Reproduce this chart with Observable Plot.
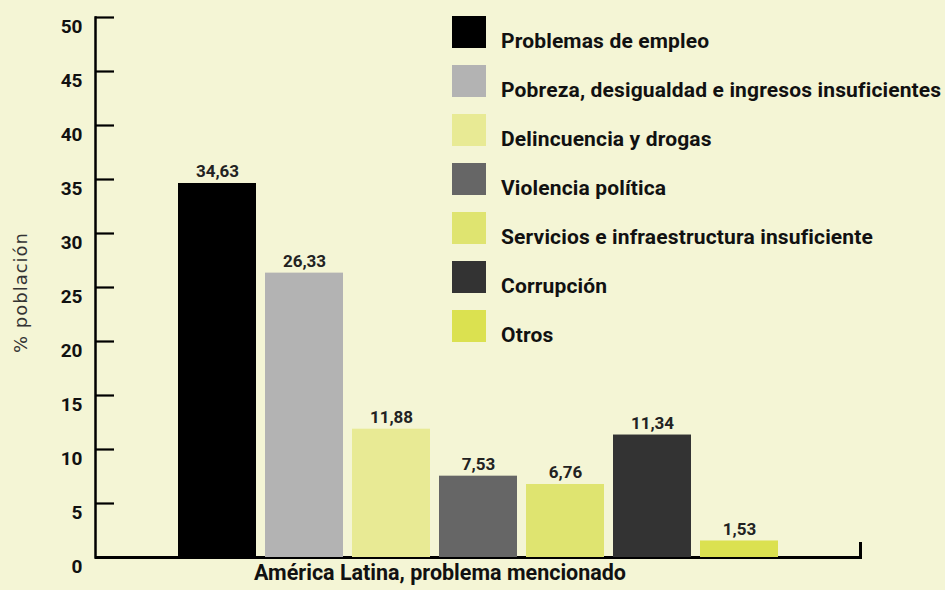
<!DOCTYPE html>
<html>
<head>
<meta charset="utf-8">
<script src="https://cdn.jsdelivr.net/npm/d3@7"></script>
<script src="https://cdn.jsdelivr.net/npm/@observablehq/plot@0.6"></script>
<style>
  html, body { margin: 0; padding: 0; background: #F4F5D5; }
  #wrap { position: relative; width: 945px; height: 590px; overflow: hidden; }
  #wrap svg { position: absolute; left: 0; top: 0; }
  #legend { position: absolute; left: 452px; top: 0; font-family: Roboto, sans-serif; font-weight: 700; font-size: 21px; letter-spacing: 0.15px; color: #111; }
  .row { position: absolute; left: 0; white-space: nowrap; line-height: 21px; }
  .sw { display: inline-block; width: 34px; height: 32px; margin-right: 15px; vertical-align: baseline; }
</style>
</head>
<body>
<div id="wrap"><div id="legend"></div></div>
<script>
const categories = [
  "Problemas de empleo",
  "Pobreza, desigualdad e ingresos insuficientes",
  "Delincuencia y drogas",
  "Violencia política",
  "Servicios e infraestructura insuficiente",
  "Corrupción",
  "Otros"
];
const values = [34.63, 26.33, 11.88, 7.53, 6.76, 11.34, 1.53];
const colors = ["#000000", "#b3b3b3", "#e8ea94", "#666666", "#dfe470", "#333333", "#dbe150"];
const yTicks = [0, 5, 10, 15, 20, 25, 30, 35, 40, 45, 50];
const yLabel = "% población";
const xTitle = "América Latina, problema mencionado";

const data = categories.map((c, i) => ({cat: c, val: values[i]}));
const fmt = d3.formatLocale({decimal: ",", thousands: ".", grouping: [3], currency: ["", ""]}).format(".2f");

const W = 945, H = 590, mL = 95, mR = 85, mT = 17, mB = 33;
const frameW = W - mL - mR, frameH = H - mT - mB;

const chart = Plot.plot({
  width: W, height: H,
  marginLeft: mL, marginRight: mR, marginTop: mT, marginBottom: mB,
  style: {background: "transparent", fontFamily: "Roboto, sans-serif", color: "#111"},
  x: {type: "band", domain: categories, range: [167.2, 789.9], padding: 0.1, axis: null},
  y: {domain: [0, 50], axis: null},
  color: {domain: categories, range: colors},
  marks: [
    Plot.frame({anchor: "left", stroke: "#000", strokeWidth: 2.5}),
    Plot.frame({anchor: "right", stroke: "#000", strokeWidth: 3, insetTop: frameH - 14}),
    Plot.ruleY(yTicks.filter(d => d > 0), {y: d => d, stroke: "#000", strokeWidth: 2.2, insetRight: frameW - 19}),
    Plot.axisY({ticks: yTicks, tickSize: 0, tickPadding: 13, dy: 9, fontSize: 19, fontWeight: "bold", label: null, tickFormat: d => String(d)}),
    Plot.ruleY([0], {stroke: "#000", strokeWidth: 3}),
    Plot.barY(data, {x: "cat", y: "val", fill: "cat"}),
    Plot.text(data, {x: "cat", y: "val", text: d => fmt(d.val), dy: -6, lineAnchor: "bottom", fontSize: 17, fontWeight: "bold", fill: "#222"}),
    Plot.text([xTitle], {frameAnchor: "bottom", dx: -38, dy: 22, fontSize: 21.5, fontWeight: "bold", fill: "#111"}),
    Plot.text([yLabel], {frameAnchor: "left", textAnchor: "middle", rotate: -90, dx: -74, dy: 5, fontSize: 18, fontFamily: "DejaVu Sans", fill: "#333"})
  ]
});
document.getElementById("wrap").prepend(chart);
d3.select(chart).selectAll("text").filter(function() { return this.textContent === yLabel; }).style("letter-spacing", "1px");

const legend = document.getElementById("legend");
const rowTops = categories.map((c, i) => 16 + i * 49);
categories.forEach((c, i) => {
  const row = document.createElement("div");
  row.className = "row";
  row.style.top = rowTops[i] + "px";
  const sw = document.createElement("span");
  sw.className = "sw";
  sw.style.background = colors[i];
  const lab = document.createElement("span");
  lab.textContent = c;
  row.appendChild(sw);
  row.appendChild(lab);
  legend.appendChild(row);
});
</script>
</body>
</html>
